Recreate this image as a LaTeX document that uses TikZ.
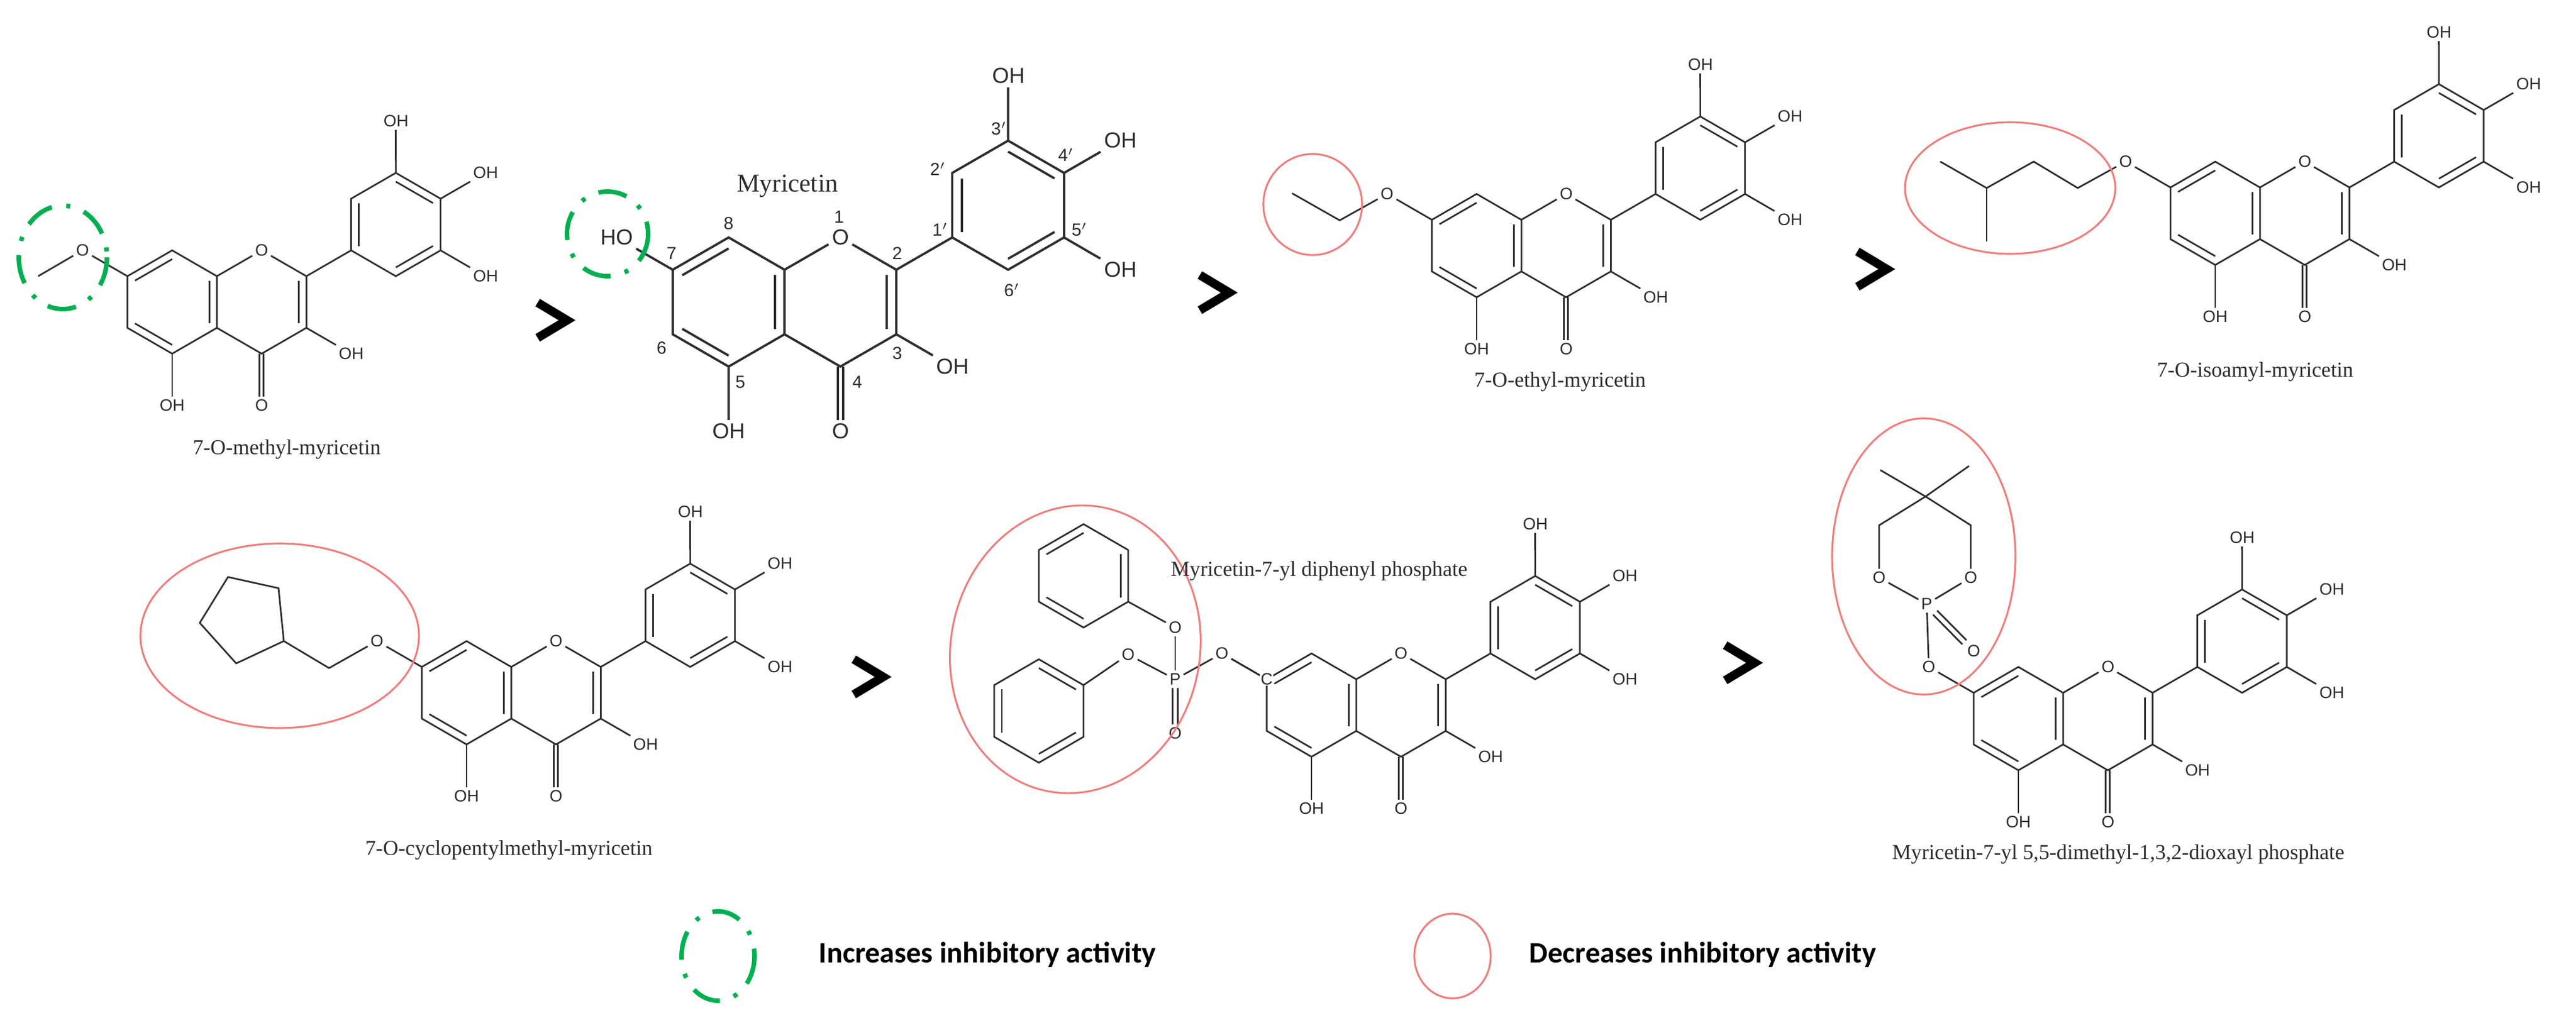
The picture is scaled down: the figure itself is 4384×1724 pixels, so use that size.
\documentclass[tikz,border=0pt]{standalone}
\usepackage{fontspec}
\setmainfont{Liberation Serif}
\newfontfamily\atomfont{Liberation Sans}
\newfontfamily\legfont{Carlito}
\usetikzlibrary{calc}
\definecolor{bondc}{RGB}{45,45,45}
\definecolor{grn}{RGB}{0,176,80}
\definecolor{redc}{RGB}{240,125,125}
\tikzset{
  bond/.style={draw=bondc,line width=0.8pt,line join=miter},
  atom/.style={font=\atomfont\fontsize{8}{8}\selectfont,inner sep=1.2pt,text=bondc},
  num/.style={font=\atomfont\fontsize{8.5}{8.5}\selectfont,inner sep=0pt,text=bondc},
  lbl/.style={font=\fontsize{10.3}{11}\selectfont,text=bondc,inner sep=0pt},
  gt/.style={draw=black,line width=4.2pt,miter limit=10},
  inc/.style={draw=grn,line width=2.2pt,dash pattern=on 14pt off 7pt on 2pt off 7pt},
  dec/.style={draw=redc,line width=0.9pt},
  leg/.style={font=\legfont\bfseries\fontsize{14.3}{14.3}\selectfont,anchor=west,inner sep=0pt},
  flav/.pic={
    \coordinate (-Ac) at (0,0); \coordinate (-Cc) at (1.732,0); \coordinate (-Bc) at (4.330,-1.5);
    \coordinate (-C8) at (0,-1); \coordinate (-C8a) at (0.866,-0.5); \coordinate (-C4a) at (0.866,0.5);
    \coordinate (-C5) at (0,1); \coordinate (-C6) at (-0.866,0.5); \coordinate (-C7) at (-0.866,-0.5);
    \coordinate (-C2) at (2.598,-0.5); \coordinate (-C3) at (2.598,0.5); \coordinate (-C4) at (1.732,1);
    \coordinate (-C1p) at (3.464,-1); \coordinate (-C2p) at (3.464,-2); \coordinate (-C3p) at (4.330,-2.5);
    \coordinate (-C4p) at (5.196,-2); \coordinate (-C5p) at (5.196,-1); \coordinate (-C6p) at (4.330,-0.5);
    \node[atom] (-O1) at (1.732,-1) {O};
    \node[atom] (-OK) at (1.732,2) {O};
    \node[atom] (-O5) at (0,2) {OH};
    \node[atom] (-O3) at (3.464,1) {OH};
    \node[atom] (-O3p) at (4.330,-3.5) {OH};
    \node[atom] (-O4p) at (6.062,-2.5) {OH};
    \node[atom] (-O5p) at (6.062,-0.5) {OH};
    \node[atom] (-O7) at (-1.732,-1) {#1};
    \draw[bond] (-C7)--(-C8)--(-C8a)--(-C4a)--(-C5)--(-C6)--cycle;
    \draw[bond] (-C8a)--(-O1)--(-C2)--(-C3)--(-C4)--(-C4a);
    \draw[bond] (-C2)--(-C1p);
    \draw[bond] (-C1p)--(-C2p)--(-C3p)--(-C4p)--(-C5p)--(-C6p)--cycle;
    \draw[bond] (-C7)--(-O7);
    \draw[bond] (-C5)--(-O5);
    \draw[bond] (-C3)--(-O3);
    \draw[bond] (-C3p)--(-O3p);
    \draw[bond] (-C4p)--(-O4p);
    \draw[bond] (-C5p)--(-O5p);
    \draw[bond] ($(-C4)+(-0.04,0)$) -- ($(-OK.north)+(-0.04,0)$);
    \draw[bond] ($(-C4)+(0.04,0)$) -- ($(-OK.north)+(0.04,0)$);
    \draw[bond] ($(-C7)!.17!(-Ac)$) -- ($(-C8)!.17!(-Ac)$);
    \draw[bond] ($(-C5)!.17!(-Ac)$) -- ($(-C6)!.17!(-Ac)$);
    \draw[bond] ($(-C8a)!.17!(-Ac)$) -- ($(-C4a)!.17!(-Ac)$);
    \draw[bond] ($(-C2)!.17!(-Cc)$) -- ($(-C3)!.17!(-Cc)$);
    \draw[bond] ($(-C1p)!.17!(-Bc)$) -- ($(-C2p)!.17!(-Bc)$);
    \draw[bond] ($(-C3p)!.17!(-Bc)$) -- ($(-C4p)!.17!(-Bc)$);
    \draw[bond] ($(-C5p)!.17!(-Bc)$) -- ($(-C6p)!.17!(-Bc)$);
  }
}
\begin{document}
\begin{tikzpicture}[x=0.01cm,y=-0.01cm]
\useasboundingbox (0,0) rectangle (4384,1724);

% ---------- top row ----------
\pic (p1) [scale=88] at (293,514) {flav={O}};
\coordinate (m1) at (65,470);
\draw[bond] (p1-O7) -- (m1);
\draw[inc] (107,438) ellipse [x radius=75, y radius=88];
\node[lbl] (n1) at (488,765) {7-O-methyl-myricetin};

\draw[gt] (915,515) -- (965,545) -- (915,575);

\pic (p2) [scale=110,bond/.style={draw=bondc,line width=1.1pt},atom/.style={font=\atomfont\fontsize{10.5}{10.5}\selectfont,inner sep=1.5pt,text=bondc}] at (1240,514) {flav={HO}};
\draw[inc] (1034,398) ellipse [x radius=69, y radius=72];
\node[lbl,font=\fontsize{12.4}{13}\selectfont] (n2) at (1340,317) {Myricetin};
\node[num] at (1240,380) {8};
\node[num] at (1428,369) {1};
\node[num] at (1143,431) {7};
\node[num] at (1527,431) {2};
\node[num] at (1600,391) {1$'$};
\node[num] at (1596,288) {2$'$};
\node[num] at (1700,219) {3$'$};
\node[num] at (1814,264) {4$'$};
\node[num] at (1837,391) {5$'$};
\node[num] at (1722,494) {6$'$};
\node[num] at (1126,592) {6};
\node[num] at (1260,650) {5};
\node[num] at (1459,650) {4};
\node[num] at (1527,601) {3};

\draw[gt] (2042,468) -- (2092,498) -- (2042,528);

\pic (p3) [scale=88] at (2513,418) {flav={O}};
\coordinate (e1) at (2280,375); \coordinate (e2) at (2199,329);
\draw[bond] (p3-O7) -- (e1) -- (e2);
\draw[dec] (2234,348) ellipse [x radius=84, y radius=86];
\node[lbl] (n3) at (2655,650) {7-O-ethyl-myricetin};

\draw[gt] (3161,428) -- (3211,458) -- (3161,488);

\pic (p4) [scale=88] at (3770,363) {flav={O}};
\coordinate (i1) at (3536,320); \coordinate (i2) at (3461,275); \coordinate (i3) at (3381,320);
\coordinate (i4) at (3302,275); \coordinate (i5) at (3381,411);
\draw[bond] (p4-O7) -- (i1) -- (i2) -- (i3) -- (i4);
\draw[bond] (i3) -- (i5);
\draw[dec] (3421,320) ellipse [x radius=179, y radius=112];
\node[lbl] (n4) at (3838,633) {7-O-isoamyl-myricetin};

% ---------- bottom row ----------
\pic (p5) [scale=88] at (794,1179) {flav={O}};
\coordinate (c1) at (560,1137); \coordinate (c2) at (483,1091); \coordinate (c3) at (402,1129);
\coordinate (c4) at (340,1060); \coordinate (c5) at (388,982); \coordinate (c6) at (474,1001);
\draw[bond] (p5-O7) -- (c1) -- (c2);
\draw[bond] (c2) -- (c3) -- (c4) -- (c5) -- (c6) -- cycle;
\draw[dec] (476,1082) ellipse [x radius=237, y radius=157];
\node[lbl] (n5) at (866,1447) {7-O-cyclopentylmethyl-myricetin};

\draw[gt] (1453,1122) -- (1503,1152) -- (1453,1182);

\pic (p6) [scale=88] at (2232,1200) {flav={O}};
\node[atom,fill=white,inner sep=0.4pt] (cc) at (p6-C7) {C};
\node[atom] (P) at (2000,1156) {P};
\node[atom] (Oa) at (2000,1068) {O};
\node[atom] (Ob) at (1920,1114) {O};
\node[atom] (Oc) at (2000,1248) {O};
\draw[bond] (cc) -- (p6-O7) -- (P);
\draw[bond] (P) -- (Oa);
\draw[bond] (P) -- (Ob);
\draw[bond] ([xshift=-1.3pt]P.south) -- ([xshift=-1.3pt]Oc.north);
\draw[bond] ([xshift=1.3pt]P.south) -- ([xshift=1.3pt]Oc.north);
% phenyl 1
\coordinate (h1c) at (1844,980);
\coordinate (h1a) at (1844,892); \coordinate (h1b) at (1920,936); \coordinate (h1d) at (1920,1024);
\coordinate (h1e) at (1844,1068); \coordinate (h1f) at (1768,1024); \coordinate (h1g) at (1768,936);
\draw[bond] (h1a) -- (h1b) -- (h1d) -- (h1e) -- (h1f) -- (h1g) -- cycle;
\draw[bond] (Oa) -- (h1d);
\draw[bond] ($(h1g)!.17!(h1c)$) -- ($(h1a)!.17!(h1c)$);
\draw[bond] ($(h1b)!.17!(h1c)$) -- ($(h1d)!.17!(h1c)$);
\draw[bond] ($(h1f)!.17!(h1c)$) -- ($(h1e)!.17!(h1c)$);
% phenyl 2
\coordinate (h2c) at (1768,1210);
\coordinate (h2a) at (1768,1122); \coordinate (h2b) at (1844,1166); \coordinate (h2d) at (1844,1254);
\coordinate (h2e) at (1768,1298); \coordinate (h2f) at (1692,1254); \coordinate (h2g) at (1692,1166);
\draw[bond] (h2a) -- (h2b) -- (h2d) -- (h2e) -- (h2f) -- (h2g) -- cycle;
\draw[bond] (Ob) -- (h2b);
\draw[bond] ($(h2a)!.17!(h2c)$) -- ($(h2b)!.17!(h2c)$);
\draw[bond] ($(h2g)!.17!(h2c)$) -- ($(h2f)!.17!(h2c)$);
\draw[bond] ($(h2d)!.17!(h2c)$) -- ($(h2e)!.17!(h2c)$);
\draw[dec,rotate around={-11:(1830,1105)}] (1830,1105) ellipse [x radius=212, y radius=246];
\node[lbl] (n6) at (2245,972) {Myricetin-7-yl diphenyl phosphate};

\draw[gt] (2936,1098) -- (2986,1128) -- (2936,1158);

\pic (p7) [scale=88] at (3435,1223) {flav={O}};
\node[atom] (P2) at (3279,1028) {P};
\node[atom] (Od) at (3359,1108) {O};
\node[atom] (OL) at (3198,983) {O};
\node[atom] (OR) at (3354,983) {O};
\coordinate (CL) at (3198,894); \coordinate (CR) at (3354,894);
\coordinate (Cq) at (3277,845); \coordinate (Me1) at (3200,800); \coordinate (Me2) at (3351,793);
\draw[bond] (p7-O7) -- (P2);
\draw[bond] (P2) -- (OL) -- (CL) -- (Cq) -- (CR) -- (OR) -- (P2);
\draw[bond] (Cq) -- (Me1);
\draw[bond] (Cq) -- (Me2);
\draw[bond] ([xshift=-1pt,yshift=-1pt]P2.south east) -- ([xshift=-1pt,yshift=-1pt]Od.north west);
\draw[bond] ([xshift=1pt,yshift=1pt]P2.south east) -- ([xshift=1pt,yshift=1pt]Od.north west);
\draw[dec] (3274,947) ellipse [x radius=156, y radius=235];
\node[lbl] (n7) at (3605,1454) {Myricetin-7-yl 5,5-dimethyl-1,3,2-dioxayl phosphate};

% ---------- legend ----------
\draw[inc] (1222,1627) ellipse [x radius=62, y radius=76];
\node[leg] (l1) at (1393,1625) {Increases inhibitory activity};
\draw[dec] (2472,1627) ellipse [x radius=65, y radius=72];
\node[leg] (l2) at (2602,1625) {Decreases inhibitory activity};
\end{tikzpicture}
\end{document}
